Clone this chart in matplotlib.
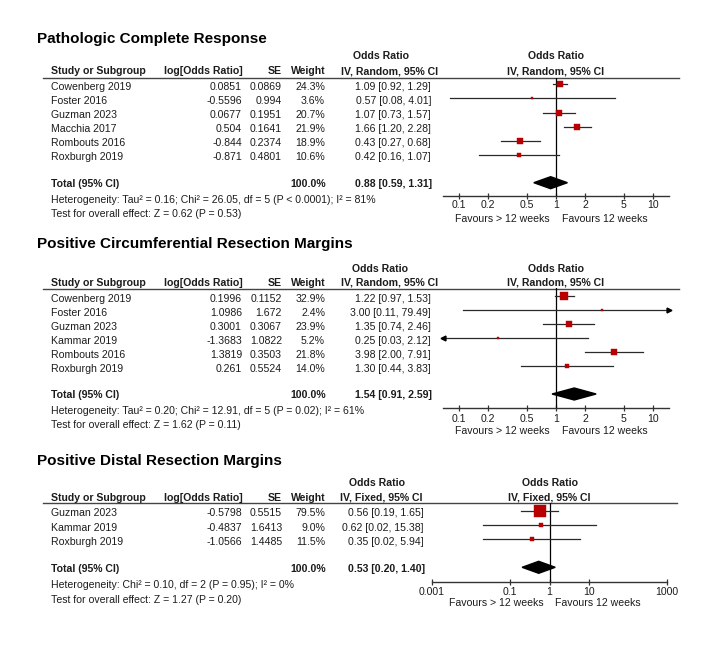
import matplotlib
matplotlib.use("Agg")
import matplotlib.pyplot as plt
import numpy as np
from matplotlib.ticker import NullLocator

plt.rcParams['font.family'] = ['Liberation Sans', 'DejaVu Sans']

# ---- Pathologic Complete Response ----
pcr_studies = ["Cowenberg 2019", "Foster 2016", "Guzman 2023", "Macchia 2017", "Rombouts 2016", "Roxburgh 2019"]
pcr_logor = [0.0851, -0.5596, 0.0677, 0.504, -0.844, -0.871]
pcr_se = [0.0869, 0.994, 0.1951, 0.1641, 0.2374, 0.4801]
pcr_weight = [24.3, 3.6, 20.7, 21.9, 18.9, 10.6]
pcr_or = [1.09, 0.57, 1.07, 1.66, 0.43, 0.42]
pcr_lo = [0.92, 0.08, 0.73, 1.20, 0.27, 0.16]
pcr_hi = [1.29, 4.01, 1.57, 2.28, 0.68, 1.07]
pcr_total = [0.88, 0.59, 1.31]
pcr_het = "Heterogeneity: Tau\u00b2 = 0.16; Chi\u00b2 = 26.05, df = 5 (P < 0.0001); I\u00b2 = 81%"
pcr_test = "Test for overall effect: Z = 0.62 (P = 0.53)"

# ---- Positive Circumferential Resection Margins ----
crm_studies = ["Cowenberg 2019", "Foster 2016", "Guzman 2023", "Kammar 2019", "Rombouts 2016", "Roxburgh 2019"]
crm_logor = [0.1996, 1.0986, 0.3001, -1.3683, 1.3819, 0.261]
crm_se = [0.1152, 1.672, 0.3067, 1.0822, 0.3503, 0.5524]
crm_weight = [32.9, 2.4, 23.9, 5.2, 21.8, 14.0]
crm_or = [1.22, 3.00, 1.35, 0.25, 3.98, 1.30]
crm_lo = [0.97, 0.11, 0.74, 0.03, 2.00, 0.44]
crm_hi = [1.53, 79.49, 2.46, 2.12, 7.91, 3.83]
crm_total = [1.54, 0.91, 2.59]
crm_het = "Heterogeneity: Tau\u00b2 = 0.20; Chi\u00b2 = 12.91, df = 5 (P = 0.02); I\u00b2 = 61%"
crm_test = "Test for overall effect: Z = 1.62 (P = 0.11)"

# ---- Positive Distal Resection Margins ----
drm_studies = ["Guzman 2023", "Kammar 2019", "Roxburgh 2019"]
drm_logor = [-0.5798, -0.4837, -1.0566]
drm_se = [0.5515, 1.6413, 1.4485]
drm_weight = [79.5, 9.0, 11.5]
drm_or = [0.56, 0.62, 0.35]
drm_lo = [0.19, 0.02, 0.02]
drm_hi = [1.65, 15.38, 5.94]
drm_total = [0.53, 0.20, 1.40]
drm_het = "Heterogeneity: Chi\u00b2 = 0.10, df = 2 (P = 0.95); I\u00b2 = 0%"
drm_test = "Test for overall effect: Z = 1.27 (P = 0.20)"

ticks_a = [0.1, 0.2, 0.5, 1, 2, 5, 10]
ticklab_a = ["0.1", "0.2", "0.5", "1", "2", "5", "10"]
ticks_b = [0.001, 0.1, 1, 10, 1000]
ticklab_b = ["0.001", "0.1", "1", "10", "1000"]

W, H = 720, 650
RED = '#b80000'
TXT = '#1c1c1c'
FS = 7.6

fig = plt.figure(figsize=(7.2, 6.5), dpi=100)
canvas = fig.add_axes([0, 0, 1, 1])
canvas.set_xlim(0, W)
canvas.set_ylim(H, 0)
canvas.axis('off')


def fmt_ci(v):
    return "%.2f [%.2f, %.2f]" % (v[0], v[1], v[2])


def draw_panel(title, method, studies, logor, se, weight, orv, lo, hi, total,
               het, test, ticks, ticklabs, xlim, lay):
    kw = dict(fontsize=FS, color=TXT, va='baseline')
    canvas.text(37, lay['title'], title, fontsize=11, weight='bold', color='black', va='baseline')
    # table header
    canvas.text(lay['or_c'], lay['or_b'], "Odds Ratio", ha='center', weight='bold', **kw)
    canvas.text(51, lay['head'], "Study or Subgroup", ha='left', weight='bold', **kw)
    canvas.text(243, lay['head'], "log[Odds Ratio]", ha='right', weight='bold', **kw)
    canvas.text(282, lay['head'], "SE", ha='right', weight='bold', **kw)
    canvas.text(326, lay['head'], "Weight", ha='right', weight='bold', **kw)
    canvas.text(lay['iv_c'], lay['head'], method, ha='center', weight='bold', **kw)
    x0, x1 = lay['ax_x']
    mid = (x0 + x1) / 2
    canvas.text(mid, lay['or_b'], "Odds Ratio", ha='center', weight='bold', **kw)
    canvas.text(mid, lay['head'], method, ha='center', weight='bold', **kw)
    canvas.plot([43, lay['line_end']], [lay['line'], lay['line']], color='#444444', lw=1.0)

    top = lay['line']
    bottom = lay['axis']
    h = bottom - top
    ax = fig.add_axes([x0 / W, 1 - bottom / H, (x1 - x0) / W, h / H])
    ax.set_xscale('log')
    ax.set_xlim(xlim)
    ax.set_ylim(h, 0)
    ax.patch.set_alpha(0)
    for s in ['top', 'left', 'right']:
        ax.spines[s].set_visible(False)
    ax.spines['bottom'].set_color('#333333')
    ax.spines['bottom'].set_linewidth(1.0)
    ax.set_xticks(ticks)
    ax.set_xticklabels([])
    ax.xaxis.set_minor_locator(NullLocator())
    ax.set_yticks([])
    ax.tick_params(axis='x', direction='inout', length=4.3, width=0.9, color='#333333')
    ax.axvline(1, color='black', lw=0.9)

    for i in range(len(studies)):
        y = lay['row0'] + lay['step'] * i
        tb = y + 5.5
        canvas.text(51, tb, studies[i], ha='left', **kw)
        canvas.text(242, tb, str(logor[i]), ha='right', **kw)
        canvas.text(282, tb, str(se[i]), ha='right', **kw)
        canvas.text(325, tb, "%.1f%%" % weight[i], ha='right', **kw)
        canvas.text(lay['or_r'], tb, fmt_ci([orv[i], lo[i], hi[i]]), ha='right', **kw)

        yy = y - top
        a = max(lo[i], xlim[0])
        b = min(hi[i], xlim[1])
        ax.plot([a, b], [yy, yy], color='#2a2a2a', lw=0.9, zorder=2)
        if hi[i] > xlim[1]:
            ax.plot(xlim[1], yy, marker='>', ms=3.5, color='black', clip_on=False, zorder=2)
        if lo[i] < xlim[0]:
            ax.plot(xlim[0], yy, marker='<', ms=3.5, color='black', clip_on=False, zorder=2)
        side = max(1.3 * np.sqrt(weight[i]), 2.3)
        ax.plot(orv[i], yy, marker='s', ms=side * 0.72, color=RED, mec=RED, mew=0.3, zorder=3)

    # total
    tb = lay['total'] + 4.2
    canvas.text(51, tb, "Total (95% CI)", ha='left', weight='bold', **kw)
    canvas.text(326, tb, "100.0%", ha='right', weight='bold', **kw)
    canvas.text(lay['or_r'] + 1, tb, fmt_ci(total), ha='right', weight='bold', **kw)
    yt = lay['total'] - top
    ax.fill([total[1], total[0], total[2], total[0]], [yt, yt - 6, yt, yt + 6],
            color='black', zorder=3)

    canvas.text(51, lay['het'], het, ha='left', **kw)
    canvas.text(51, lay['test'], test, ha='left', **kw)

    # tick labels and favours
    for t, lab in zip(ticks, ticklabs):
        ax.text(t, lay['tick_b'] - top, lab, ha='center', va='baseline', fontsize=FS, color=TXT)
    ax.annotate("Favours > 12 weeks", xy=(1, lay['fav_b'] - top), xytext=(-4.3, 0),
                textcoords='offset points', ha='right', va='baseline', fontsize=FS,
                color=TXT, annotation_clip=False)
    ax.annotate("Favours 12 weeks", xy=(1, lay['fav_b'] - top), xytext=(4.0, 0),
                textcoords='offset points', ha='left', va='baseline', fontsize=FS,
                color=TXT, annotation_clip=False)
    return ax


lay1 = dict(title=43, or_b=59, head=74, line=77.5, line_end=679, row0=84.3, step=14.1,
            total=182.7, het=203, test=217, axis=196, tick_b=208, fav_b=221.5,
            ax_x=(443, 669), or_c=381, iv_c=390, or_r=431)
lay2 = dict(title=248, or_b=271.7, head=285.7, line=288.5, line_end=679, row0=296, step=14.06,
            total=394, het=414.3, test=428, axis=408.3, tick_b=421.5, fav_b=434,
            ax_x=(443, 669), or_c=380, iv_c=390, or_r=431)
lay3 = dict(title=465, or_b=486, head=500.7, line=502.5, line_end=677, row0=511, step=14.2,
            total=567.3, het=588.3, test=602.7, axis=582, tick_b=595, fav_b=606.5,
            ax_x=(432, 667), or_c=377, iv_c=381, or_r=424)

draw_panel("Pathologic Complete Response", "IV, Random, 95% CI", pcr_studies, pcr_logor,
           pcr_se, pcr_weight, pcr_or, pcr_lo, pcr_hi, pcr_total, pcr_het, pcr_test,
           ticks_a, ticklab_a, (0.0684, 14.6), lay1)
draw_panel("Positive Circumferential Resection Margins", "IV, Random, 95% CI", crm_studies,
           crm_logor, crm_se, crm_weight, crm_or, crm_lo, crm_hi, crm_total, crm_het, crm_test,
           ticks_a, ticklab_a, (0.0684, 14.6), lay2)
draw_panel("Positive Distal Resection Margins", "IV, Fixed, 95% CI", drm_studies, drm_logor,
           drm_se, drm_weight, drm_or, drm_lo, drm_hi, drm_total, drm_het, drm_test,
           ticks_b, ticklab_b, (0.001, 1000), lay3)

fig.savefig("out.png", dpi=100)
